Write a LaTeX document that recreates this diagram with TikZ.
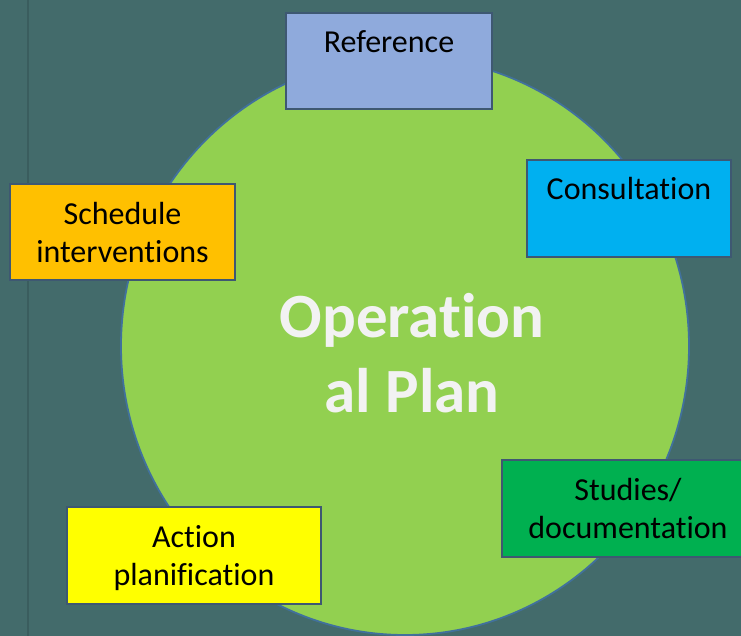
\documentclass[tikz,border=0pt]{standalone}
\usepackage{fontspec}
\setmainfont{Carlito}[RawFeature={-liga;-clig;-dlig}]
\usetikzlibrary{shapes.geometric}
\definecolor{bg}{HTML}{436B6B}
\definecolor{vline}{HTML}{3A5D5E}
\definecolor{circfill}{HTML}{92D050}
\definecolor{circline}{HTML}{41719C}
\definecolor{boxline}{HTML}{3E5872}
\definecolor{refc}{HTML}{8FAADC}
\definecolor{consc}{HTML}{00B0F0}
\definecolor{schedc}{HTML}{FFC000}
\definecolor{studc}{HTML}{00B050}
\definecolor{actc}{HTML}{FFFF00}
\definecolor{ctext}{HTML}{F2F2F2}
\begin{document}
\begin{tikzpicture}[x=1pt,y=-1pt,
  box/.style={draw=boxline, line width=1.6pt, anchor=north west, inner sep=0pt, outer sep=0pt, rectangle},
  lbl/.style={anchor=north, inner sep=0pt, outer sep=0pt, align=center, text=black, yshift=-16pt,
    font=\fontsize{32}{38.5}\selectfont},
  plan/.style={ellipse, draw=circline, line width=1.8pt, fill=circfill, inner sep=0pt,
    minimum width=568pt, minimum height=578pt},
  title/.style={anchor=north, inner sep=0pt, outer sep=0pt, align=center, text=ctext,
    font=\fontsize{63}{75}\selectfont\bfseries},
]
\useasboundingbox (0,0) rectangle (741,636);
\clip (0,0) rectangle (741,636);
\fill[bg] (0,0) rectangle (741,636);
\draw[vline, line width=2pt] (28,0) -- (28,636);
\node[plan] (planshape) at (405,346) {};
\node[title] (plantext) at (412,287) {\rule{0pt}{50pt}Operation\\al Plan};
\node[box, fill=refc, minimum width=206pt, minimum height=96pt] (ref) at (286,13) {};
\node[box, fill=consc, minimum width=204pt, minimum height=97pt] (cons) at (527,160) {};
\node[box, fill=schedc, minimum width=225pt, minimum height=96pt] (sched) at (10,184) {};
\node[box, fill=studc, minimum width=252pt, minimum height=97pt] (stud) at (502,460) {};
\node[box, fill=actc, minimum width=254pt, minimum height=97pt] (act) at (67,507) {};
\node[lbl] (reft) at (ref.north) {\rule{0pt}{24pt}Reference};
\node[lbl] (const) at (cons.north) {\rule{0pt}{24pt}Consultation};
\node[lbl] (schedt) at (sched.north) {\rule{0pt}{24pt}Schedule\\interventions};
\node[lbl] (studt) at (stud.north) {\rule{0pt}{24pt}Studies/\\documentation};
\node[lbl] (actt) at (act.north) {\rule{0pt}{24pt}Action\\planification};
\end{tikzpicture}
\end{document}
